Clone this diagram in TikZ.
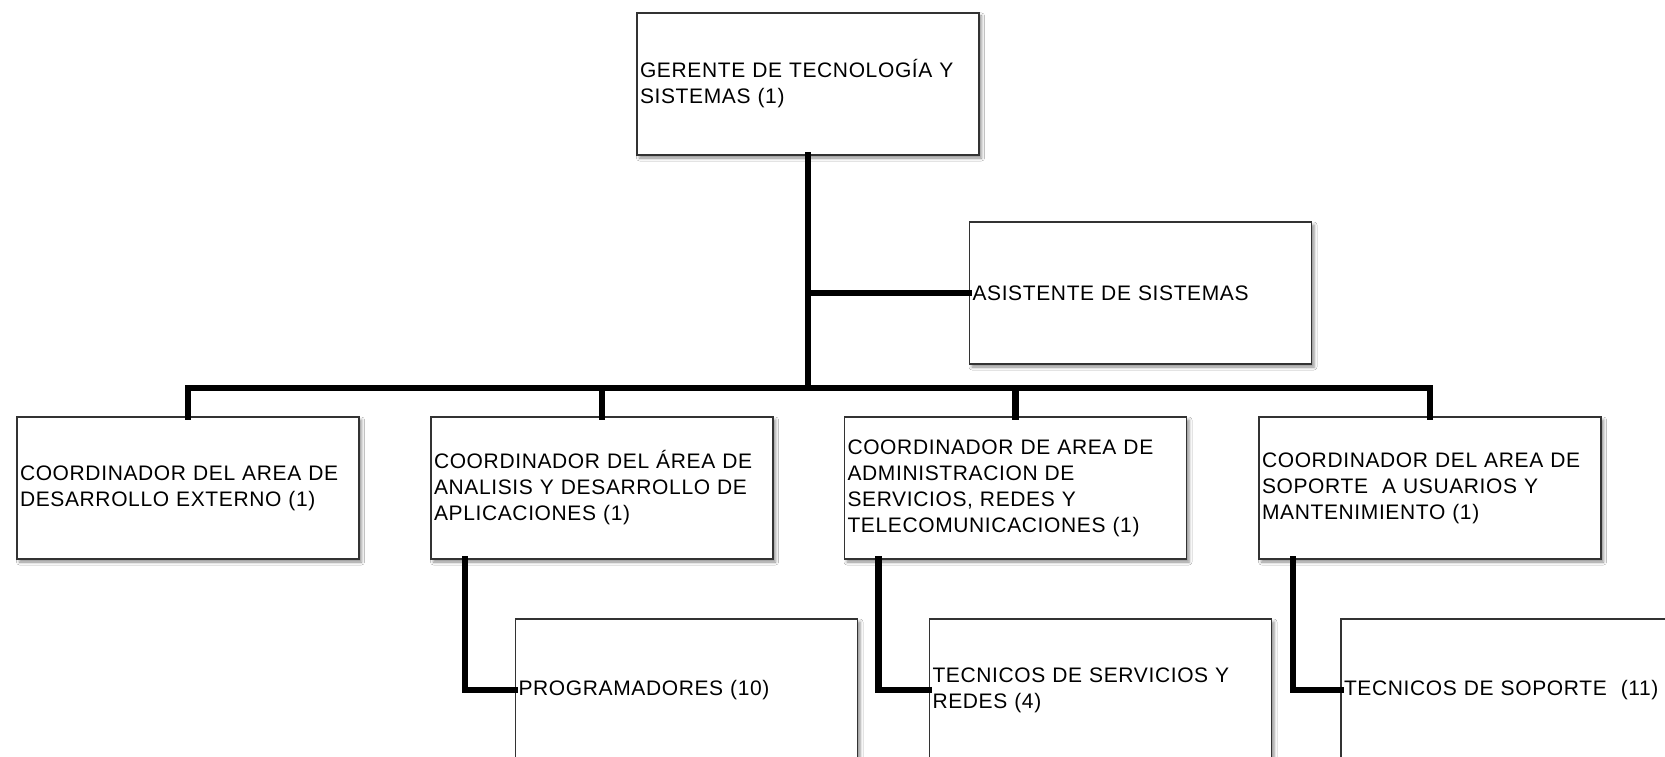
\documentclass[tikz,border=0pt]{standalone}
\usepackage{fontspec}
\setmainfont{Liberation Sans}[LetterSpace=3]
\usetikzlibrary{shadows.blur}

\tikzset{
  unit/.style={
    rectangle, draw=black!80, line width=1.2pt, fill=white,
    minimum width=342pt, minimum height=142pt,
    text width=336pt, inner xsep=3pt, align=left,
    font=\fontsize{21}{26}\selectfont,
    blur shadow={shadow xshift=2.5pt, shadow yshift=-3pt,
                 shadow blur radius=3pt, shadow opacity=45}
  },
  link/.style={line width=6.5pt, black, line join=miter, line cap=rect}
}

\begin{document}
\begin{tikzpicture}[x=1pt, y=-1pt]
  \clip (0,0) rectangle (1665,757);
  \fill[white] (0,0) rectangle (1665,757);

  % management level
  \node[unit] (ger) at (808,84) {GERENTE DE TECNOLOGÍA Y\\SISTEMAS (1)};
  \node[unit] (asis) at (1140.5,293) {ASISTENTE DE SISTEMAS};

  % area coordinators
  \node[unit] (c1) at (188,488) {COORDINADOR DEL AREA DE\\DESARROLLO EXTERNO (1)};
  \node[unit] (c2) at (602,488) {COORDINADOR DEL ÁREA DE\\ANALISIS Y DESARROLLO DE\\APLICACIONES (1)};
  \node[unit] (c3) at (1015.5,488) {COORDINADOR DE AREA DE\\ADMINISTRACION DE\\SERVICIOS, REDES Y\\TELECOMUNICACIONES (1)};
  \node[unit] (c4) at (1430,488) {COORDINADOR DEL AREA DE\\SOPORTE \ A USUARIOS Y\\MANTENIMIENTO (1)};

  % staff
  \node[unit] (p1) at (686.5,690) {PROGRAMADORES (10)};
  \node[unit] (p2) at (1100.5,690) {TECNICOS DE SERVICIOS Y\\REDES (4)};
  \node[unit] (p3) at (1512,690) {TECNICOS DE SOPORTE \ (11)};

  % connectors
  \coordinate (bus) at (808,388);
  \draw[link] (ger.south) -- (bus);
  \draw[link] (ger.south |- asis.west) -- (asis.west);
  \draw[link] (c1.north) |- (bus) -| (c4.north);
  \draw[link] (c2.north) -- (c2.north |- bus);
  \draw[link] (c3.north) -- (c3.north |- bus);
  \draw[link] ([xshift=-137pt]c2.south) |- (p1.west);
  \draw[link] ([xshift=-137pt]c3.south) |- (p2.west);
  \draw[link] ([xshift=-137pt]c4.south) |- (p3.west);
\end{tikzpicture}
\end{document}
